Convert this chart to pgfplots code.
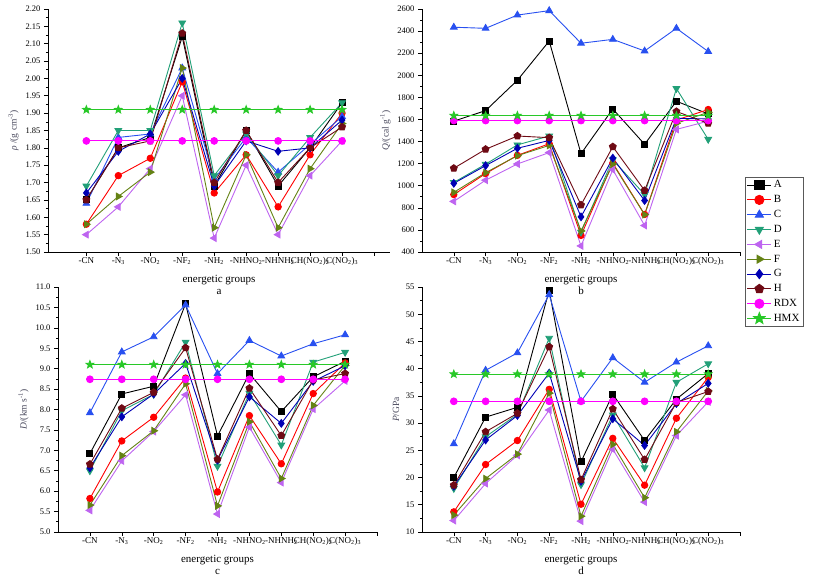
\documentclass[border=0pt]{standalone}
\usepackage{fontspec}
\setmainfont{Liberation Serif}
\usepackage{pgfplots}
\usepackage{pgfplotstable}
\pgfplotsset{compat=1.18}
\usetikzlibrary{plotmarks}

\definecolor{cC}{RGB}{40,80,240}
\definecolor{cD}{RGB}{34,160,120}
\definecolor{cE}{RGB}{190,100,240}
\definecolor{cF}{RGB}{100,130,20}
\definecolor{cG}{RGB}{0,0,180}
\definecolor{cH}{RGB}{110,10,20}
\definecolor{cR}{RGB}{255,0,255}
\definecolor{cM}{RGB}{40,200,40}
\definecolor{lab}{RGB}{70,70,90}

\pgfdeclareplotmark{fstar}{%
  \pgfpathmoveto{\pgfpointpolar{90}{1.3\pgfplotmarksize}}%
  \pgfpathlineto{\pgfpointpolar{126}{0.55\pgfplotmarksize}}%
  \pgfpathlineto{\pgfpointpolar{162}{1.3\pgfplotmarksize}}%
  \pgfpathlineto{\pgfpointpolar{198}{0.55\pgfplotmarksize}}%
  \pgfpathlineto{\pgfpointpolar{234}{1.3\pgfplotmarksize}}%
  \pgfpathlineto{\pgfpointpolar{270}{0.55\pgfplotmarksize}}%
  \pgfpathlineto{\pgfpointpolar{306}{1.3\pgfplotmarksize}}%
  \pgfpathlineto{\pgfpointpolar{342}{0.55\pgfplotmarksize}}%
  \pgfpathlineto{\pgfpointpolar{18}{1.3\pgfplotmarksize}}%
  \pgfpathlineto{\pgfpointpolar{54}{0.55\pgfplotmarksize}}%
  \pgfpathclose\pgfusepathqfillstroke}

\pgfplotstableread{
x A B C D E F G H RDX HMX
1 1.65 1.58 1.64 1.69 1.55 1.58 1.67 1.65 1.82 1.91
2 1.80 1.72 1.83 1.85 1.63 1.66 1.79 1.80 1.82 1.91
3 1.83 1.77 1.84 1.85 1.74 1.73 1.84 1.82 1.82 1.91
4 2.12 1.99 2.03 2.16 1.95 2.03 2.00 2.13 1.82 1.91
5 1.69 1.67 1.71 1.72 1.54 1.57 1.69 1.70 1.82 1.91
6 1.85 1.78 1.83 1.84 1.75 1.78 1.82 1.85 1.82 1.91
7 1.69 1.63 1.73 1.72 1.55 1.57 1.79 1.70 1.82 1.91
8 1.80 1.78 1.81 1.83 1.72 1.74 1.80 1.80 1.82 1.91
9 1.93 1.90 1.89 1.93 1.82 1.87 1.88 1.86 1.82 1.91
}\tabA

\pgfplotstableread{
x A B C D E F G H RDX HMX
1 1585 920 2435 1030 858 940 1022 1158 1590 1635
2 1680 1110 2425 1195 1050 1118 1182 1330 1590 1635
3 1955 1275 2545 1370 1197 1272 1339 1450 1590 1635
4 2310 1380 2585 1450 1300 1365 1410 1435 1590 1635
5 1290 550 2290 580 455 590 718 826 1590 1635
6 1695 1205 2325 1235 1145 1197 1250 1353 1590 1635
7 1375 740 2220 920 640 738 866 957 1590 1635
8 1765 1595 2425 1880 1510 1565 1610 1672 1590 1635
9 1650 1690 2215 1420 1585 1665 1605 1565 1590 1635
}\tabB

\pgfplotstableread{
x A B C D E F G H RDX HMX
1 6.92 5.82 7.92 6.50 5.53 5.66 6.57 6.66 8.74 9.10
2 8.38 7.23 9.41 7.97 6.74 6.87 7.82 8.03 8.74 9.10
3 8.57 7.81 9.78 8.37 7.46 7.48 8.38 8.42 8.74 9.10
4 10.59 8.77 10.56 9.65 8.36 8.63 9.13 9.51 8.74 9.10
5 7.35 5.98 8.88 6.61 5.44 5.64 6.76 6.78 8.74 9.10
6 8.88 7.85 9.69 8.40 7.57 7.70 8.31 8.52 8.74 9.10
7 7.95 6.67 9.31 7.13 6.21 6.31 7.66 7.36 8.74 9.10
8 8.80 8.39 9.61 9.16 8.01 8.10 8.69 8.72 8.74 9.10
9 9.18 9.14 9.83 9.40 8.70 9.08 9.07 8.88 8.74 9.10
}\tabC

\pgfplotstableread{
x A B C D E F G H RDX HMX
1 20.0 13.7 26.2 18.0 12.1 13.1 18.4 18.6 34 39
2 31.1 22.4 39.7 27.5 18.9 19.8 26.9 28.4 34 39
3 32.9 26.8 42.9 31.6 24.1 24.3 31.4 31.8 34 39
4 54.4 36.2 53.6 45.6 32.4 35.5 39.2 44.0 34 39
5 22.9 15.1 34.0 18.7 12.0 12.9 19.3 19.6 34 39
6 35.3 27.2 42.0 31.5 25.2 26.1 30.8 32.6 34 39
7 26.8 18.6 37.5 21.8 15.5 16.3 25.9 23.3 34 39
8 34.4 30.9 41.2 37.5 27.7 28.4 33.6 33.8 34 39
9 39.1 38.4 44.2 40.9 33.9 35.9 37.3 35.8 34 39
}\tabD

\pgfplotsset{
  sA/.style={black, mark=square*, mark size=3pt},
  sB/.style={red, mark=*, mark size=3.2pt},
  sC/.style={cC, mark=triangle*, mark size=3.8pt},
  sD/.style={cD, mark=triangle*, mark size=3.8pt, mark options={rotate=180}},
  sE/.style={cE, mark=triangle*, mark size=3.8pt, mark options={rotate=90}},
  sF/.style={cF, mark=triangle*, mark size=3.8pt, mark options={rotate=-90}},
  sG/.style={cG, mark=diamond*, mark size=3.8pt},
  sH/.style={cH, mark=pentagon*, mark size=3.6pt},
  sR/.style={cR, mark=*, mark size=3.4pt},
  sM/.style={cM, mark=fstar, mark size=3pt},
  panel/.style={
    scale only axis, anchor=south west, clip=false,
    axis x line*=bottom, axis y line*=left,
    tick align=outside,
    xtick={1,...,10},
    xticklabels={-CN,-N\textsubscript{3},-NO\textsubscript{2},-NF\textsubscript{2},-NH\textsubscript{2},-NHNO\textsubscript{2},-NHNH\textsubscript{2},CH(NO\textsubscript{2})\textsubscript{2},C(NO\textsubscript{2})\textsubscript{3},{}},
    xmin=0, xmax=10,
    major tick length=4pt, minor tick length=2pt,
    tick style={black, line width=0.6pt},
    axis line style={black, line width=0.8pt, -},
    y tick label style={font=\fontsize{8.5}{9}\selectfont},
    x tick label style={font=\fontsize{9}{10}\selectfont, inner sep=1pt},
    /pgf/number format/assume math mode=true,
    /pgf/number format/1000 sep={},
    xlabel style={font=\fontsize{11}{12}\selectfont, align=center, inner sep=1pt, yshift=-8pt},
    ylabel style={font=\fontsize{9.5}{10}\selectfont, text=lab},
    minor y tick num=1,
    every axis plot/.append style={line width=0.9pt},
  },
}

\newcommand{\allplots}[1]{%
  \addplot[sA] table[x=x,y=A]{#1};
  \addplot[sB] table[x=x,y=B]{#1};
  \addplot[sC] table[x=x,y=C]{#1};
  \addplot[sD] table[x=x,y=D]{#1};
  \addplot[sE] table[x=x,y=E]{#1};
  \addplot[sF] table[x=x,y=F]{#1};
  \addplot[sG] table[x=x,y=G]{#1};
  \addplot[sH] table[x=x,y=H]{#1};
  \addplot[sR] table[x=x,y=RDX]{#1};
  \addplot[sM] table[x=x,y=HMX]{#1};
}

\begin{document}
\begin{tikzpicture}
\useasboundingbox (0pt,0pt) rectangle (813pt,583pt);

% panel a
\begin{axis}[panel, at={(48pt,331pt)}, width=342pt, height=243pt,
  xmin=-0.2, xmax=10.5, ymin=1.50, ymax=2.20,
  ytick={1.50,1.55,...,2.21},
  yticklabel style={/pgf/number format/.cd, fixed, fixed zerofill, precision=2},
  xlabel={energetic groups\\a},
  ylabel={\textit{ρ} /(g cm\textsuperscript{-3})}]
\allplots{\tabA}
\end{axis}

% panel b
\begin{axis}[panel, at={(422pt,331pt)}, width=318pt, height=243pt,
  ymin=400, ymax=2600, ytick={400,600,...,2600},
  yticklabel style={/pgf/number format/.cd, fixed, precision=0, 1000 sep={}},
  xlabel={energetic groups\\b},
  ylabel={\textit{Q}/(cal g\textsuperscript{-1})},
  legend style={at={(rel axis cs:1.016,0.309)}, anchor=north west,
    font=\fontsize{11}{12}\selectfont, draw=gray!70!black, line width=0.6pt,
    inner sep=1.5pt, row sep=2.1pt, cells={anchor=west}},
  legend image code/.code={\draw[mark repeat=2, mark phase=2, #1, mark size=4.6pt]
     plot coordinates {(0pt,0pt) (12pt,0pt) (24pt,0pt)};}]
\allplots{\tabB}
\legend{A,B,C,D,E,F,G,H,RDX,HMX}
\end{axis}

% panel c
\begin{axis}[panel, at={(58pt,51pt)}, width=319pt, height=245pt,
  ymin=5.0, ymax=11.0, ytick={5.0,5.5,...,11.01},
  yticklabel style={/pgf/number format/.cd, fixed, fixed zerofill, precision=1},
  xlabel={energetic groups\\c},
  ylabel={\textit{D}/(km s\textsuperscript{-1})}]
\allplots{\tabC}
\end{axis}

% panel d
\begin{axis}[panel, at={(422pt,51pt)}, width=318pt, height=245pt,
  ymin=10, ymax=55, ytick={10,15,...,55},
  yticklabel style={/pgf/number format/.cd, fixed, precision=0},
  xlabel={energetic groups\\d},
  ylabel={\textit{P}/GPa}]
\allplots{\tabD}
\end{axis}
\end{tikzpicture}
\end{document}
